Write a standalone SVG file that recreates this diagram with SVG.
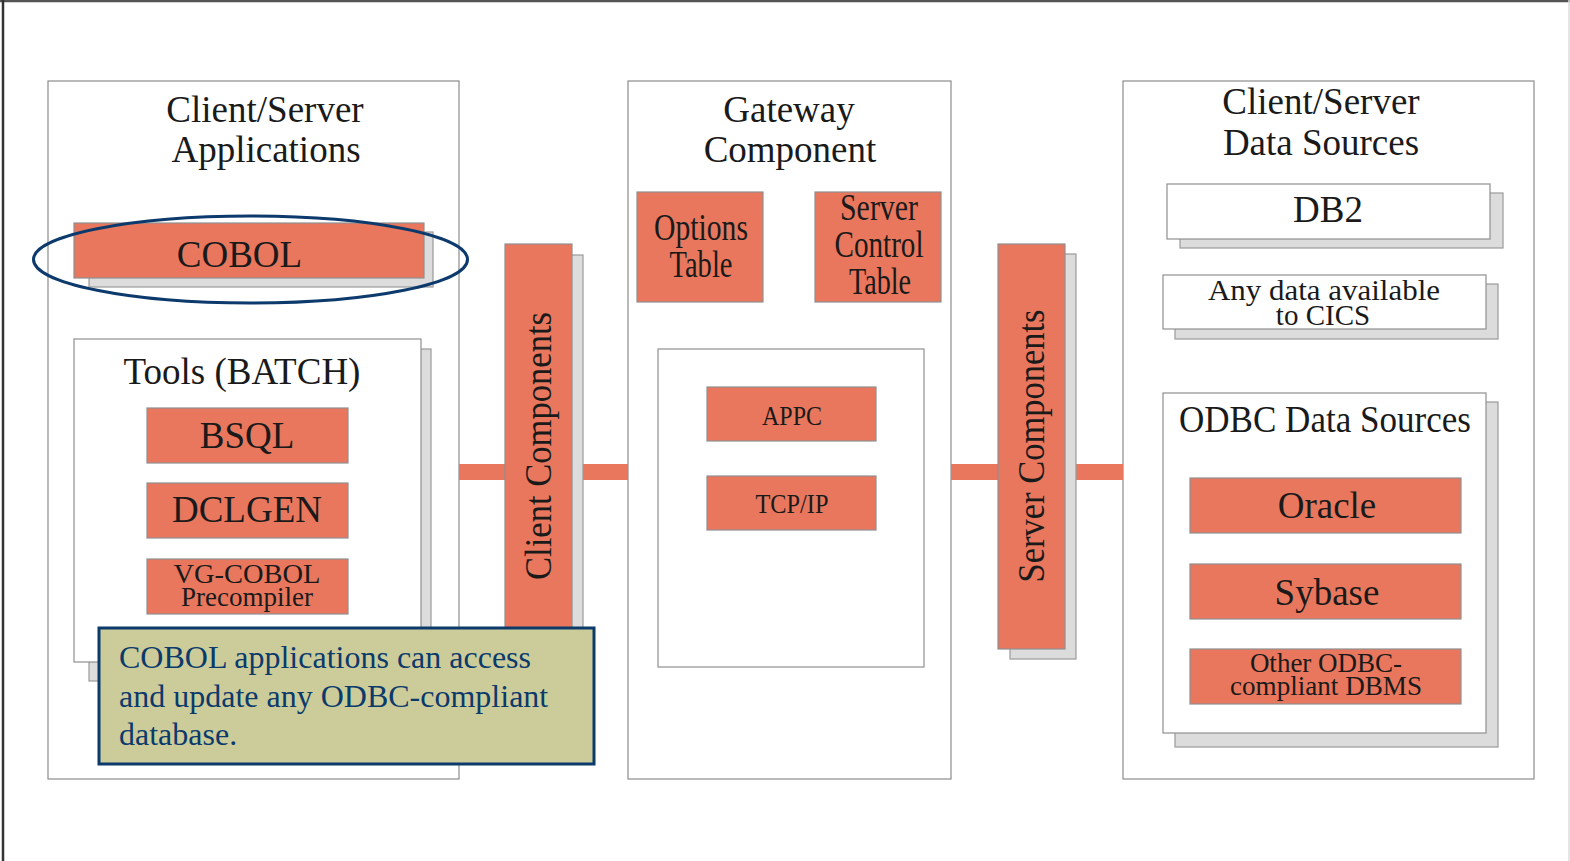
<svg xmlns="http://www.w3.org/2000/svg" width="1570" height="861" viewBox="0 0 1570 861">
<style>
text{font-family:"Liberation Serif","Times New Roman",serif;fill:#1a1a1a}
.panel{fill:#fff;stroke:#8c8c8c;stroke-width:1.2}
.box{fill:#E8775D;stroke:#8f8f8f;stroke-width:1.2}
.wbox{fill:#fff;stroke:#8f8f8f;stroke-width:1.2}
.sh{fill:#DCDCDC;stroke:#9a9a9a;stroke-width:1.2}
.t37{font-size:37px;text-anchor:middle}
.t30{font-size:29px;text-anchor:middle}
.t28{font-size:27px;text-anchor:middle}
.link{stroke:#E8775D;stroke-width:16;fill:none}
</style>
<rect x="0" y="0" width="1570" height="861" fill="#fff"/>
<line x1="0" y1="1" x2="1570" y2="1" stroke="#555" stroke-width="2.5"/>
<line x1="3" y1="0" x2="3" y2="861" stroke="#333" stroke-width="2.5"/>
<line x1="1569" y1="0" x2="1569" y2="861" stroke="#ddd" stroke-width="1.5"/>

<g id="panel-client-apps">
<rect class="panel" x="48" y="81" width="411" height="698"/>
<text class="t37" x="265" y="122">Client/Server</text>
<text class="t37" x="266" y="162">Applications</text>
</g>
<g id="panel-gateway">
<rect class="panel" x="628" y="81" width="323" height="698"/>
<text class="t37" x="789" y="122">Gateway</text>
<text class="t37" x="790" y="162">Component</text>
</g>
<g id="panel-data-sources">
<rect class="panel" x="1123" y="81" width="411" height="698"/>
<text class="t37" x="1321" y="114">Client/Server</text>
<text class="t37" x="1321" y="155">Data Sources</text>
</g>

<g id="connectors">
<line class="link" x1="459" y1="472" x2="628" y2="472"/>
<line class="link" x1="951" y1="472" x2="1123" y2="472"/>
</g>

<g id="cobol">
<rect class="sh" x="89" y="232" width="344" height="55"/>
<rect class="box" x="74" y="223" width="350" height="55"/>
<text class="t37" x="239.5" y="267">COBOL</text>
</g>
<ellipse id="highlight" cx="250.5" cy="259.5" rx="217" ry="43.5" fill="none" stroke="#0d3a6c" stroke-width="3"/>

<g id="tools">
<rect class="sh" x="89" y="349" width="342" height="332"/>
<rect class="wbox" x="74" y="339" width="347" height="323"/>
<text class="t37" x="242" y="384">Tools (BATCH)</text>
</g>
<g id="bsql">
<rect class="box" x="147" y="408" width="201" height="55"/>
<text class="t37" x="247" y="448">BSQL</text>
</g>
<g id="dclgen">
<rect class="box" x="147" y="483" width="201" height="55"/>
<text class="t37" x="247" y="522">DCLGEN</text>
</g>
<g id="vgcobol">
<rect class="box" x="147" y="559" width="201" height="55"/>
<text class="t28" x="247" y="583" textLength="147" lengthAdjust="spacingAndGlyphs">VG-COBOL</text>
<text class="t28" x="247" y="606">Precompiler</text>
</g>

<g id="client-components">
<rect class="sh" x="515" y="255" width="68" height="405"/>
<rect class="box" x="505" y="244" width="67" height="405"/>
<text class="t37" transform="translate(551,446) rotate(-90)" x="0" y="0" textLength="268" lengthAdjust="spacingAndGlyphs">Client Components</text>
</g>

<g id="options-table">
<rect class="box" x="637" y="192" width="126" height="110"/>
<text class="t37" x="701" y="240" textLength="94" lengthAdjust="spacingAndGlyphs">Options</text>
<text class="t37" x="701" y="277" textLength="63" lengthAdjust="spacingAndGlyphs">Table</text>
</g>
<g id="server-control-table">
<rect class="box" x="815" y="192" width="126" height="110"/>
<text class="t37" x="879" y="220" textLength="78" lengthAdjust="spacingAndGlyphs">Server</text>
<text class="t37" x="879" y="257" textLength="89" lengthAdjust="spacingAndGlyphs">Control</text>
<text class="t37" x="880" y="294" textLength="62" lengthAdjust="spacingAndGlyphs">Table</text>
</g>
<g id="protocols">
<rect class="wbox" x="658" y="349" width="266" height="318"/>
</g>
<g id="appc">
<rect class="box" x="707" y="387" width="169" height="54"/>
<text class="t28" x="792" y="425" textLength="60" lengthAdjust="spacingAndGlyphs">APPC</text>
</g>
<g id="tcpip">
<rect class="box" x="707" y="476" width="169" height="54"/>
<text class="t28" x="792" y="513" textLength="73" lengthAdjust="spacingAndGlyphs">TCP/IP</text>
</g>

<g id="server-components">
<rect class="sh" x="1010" y="254" width="66" height="405"/>
<rect class="box" x="998" y="244" width="67" height="405"/>
<text class="t37" transform="translate(1044,446) rotate(-90)" x="0" y="0" textLength="273" lengthAdjust="spacingAndGlyphs">Server Components</text>
</g>

<g id="db2">
<rect class="sh" x="1180" y="193" width="323" height="55"/>
<rect class="wbox" x="1167" y="184" width="323" height="55"/>
<text class="t37" x="1328" y="222">DB2</text>
</g>
<g id="cics">
<rect class="sh" x="1175" y="284" width="323" height="55"/>
<rect class="wbox" x="1163" y="275" width="323" height="54"/>
<text class="t30" x="1324" y="300" textLength="232" lengthAdjust="spacingAndGlyphs">Any data available</text>
<text class="t30" x="1323" y="325">to CICS</text>
</g>
<g id="odbc">
<rect class="sh" x="1175" y="402" width="323" height="345"/>
<rect class="wbox" x="1163" y="393" width="323" height="340"/>
<text class="t37" x="1325" y="432" textLength="292" lengthAdjust="spacingAndGlyphs">ODBC Data Sources</text>
</g>
<g id="oracle">
<rect class="box" x="1190" y="478" width="271" height="55"/>
<text class="t37" x="1327" y="518">Oracle</text>
</g>
<g id="sybase">
<rect class="box" x="1190" y="564" width="271" height="55"/>
<text class="t37" x="1327" y="605">Sybase</text>
</g>
<g id="other-odbc">
<rect class="box" x="1190" y="649" width="271" height="55"/>
<text class="t28" x="1326" y="672">Other ODBC-</text>
<text class="t28" x="1326" y="695" textLength="192" lengthAdjust="spacingAndGlyphs">compliant DBMS</text>
</g>

<g id="note">
<rect x="99" y="628" width="495" height="136" fill="#CCCC9A" stroke="#0b3a6b" stroke-width="3"/>
<text x="119" y="668" font-size="32" style="fill:#0b3a6b">COBOL applications can access</text>
<text x="119" y="707" font-size="32" style="fill:#0b3a6b">and update any ODBC-compliant</text>
<text x="119" y="745" font-size="32" style="fill:#0b3a6b">database.</text>
</g>
</svg>
